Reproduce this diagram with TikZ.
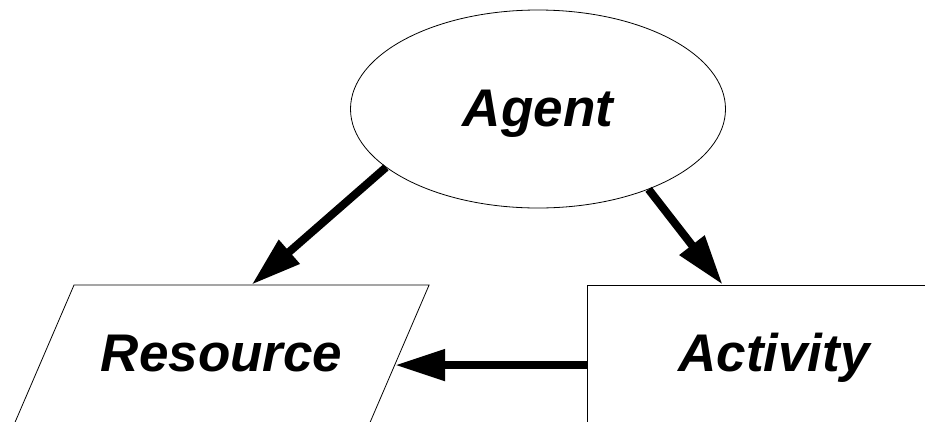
\documentclass[tikz,border=0pt]{standalone}
\usepackage{fontspec}
\setmainfont{Liberation Sans}
\usetikzlibrary{shapes.geometric, arrows.meta, calc}

\begin{document}
\begin{tikzpicture}[x=1pt, y=-1pt,
    rotulo/.style={font=\fontsize{53}{60}\selectfont\bfseries\itshape, draw, line width=0.8pt,
                   text height=38pt, text depth=4pt},
    seta/.style={line width=8pt, -{Triangle[length=50pt,width=30pt]}}]
    % Moldura
    \path[use as bounding box, clip] (0,0) rectangle (925,421);
    % Nos
    \node[rotulo, ellipse, minimum width=375pt, minimum height=198pt] (agent) at (538,109) {Agent};
    \node[rotulo, trapezium, trapezium left angle=66.74, trapezium right angle=113.26,
          inner xsep=26.8pt, inner ysep=48.7pt] (resource) at (221.6,354.7) {Resource};
    \node[rotulo, rectangle, minimum width=374pt, minimum height=139.4pt] (activity) at (774,354.7) {Activity};
    \coordinate (ponta) at ($(resource.top right corner)!0.574!(resource.bottom right corner)$);
    % Setas
    \draw[seta] (agent.201.2) -- (resource.top side);
    \draw[seta] (agent.324.9) -- ([xshift=136pt]activity.north west);
    \draw[seta] (activity.west |- ponta) -- (ponta);
\end{tikzpicture}
\end{document}
